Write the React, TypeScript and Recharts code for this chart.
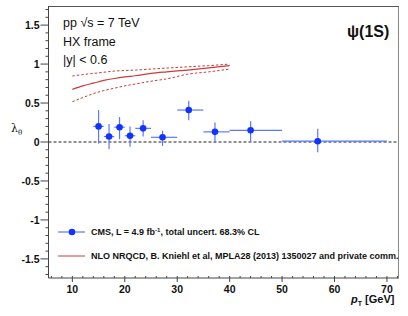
import React from 'react';
import {
    ComposedChart, Scatter, Line, XAxis, YAxis, ErrorBar, ReferenceLine
} from 'recharts';

// CMS measurement: pT bin centre, lambda_theta, errors [low, high]
const cmsPt = [15, 17, 19, 21, 23.5, 27.2, 32.2, 37.2, 44, 56.8];
const cmsLambda = [0.2, 0.07, 0.19, 0.08, 0.175, 0.06, 0.41, 0.13, 0.15, 0.01];
const cmsErrY = [[0.22, 0.21], [0.16, 0.16], [0.155, 0.13], [0.14, 0.12], [0.105, 0.105],
    [0.11, 0.085], [0.13, 0.12], [0.14, 0.12], [0.145, 0.115], [0.14, 0.16]];
const cmsErrX = [[1, 1], [1, 1], [1, 1], [1, 1], [1.5, 1.5], [2.2, 2.8], [2.2, 2.8],
    [2.2, 2.8], [4, 6], [6.8, 13.2]];

// NLO NRQCD band
const nloPt = [10, 12, 14, 16, 18, 20, 22, 25, 28, 32, 36, 40];
const nloCentral = [0.675, 0.72, 0.755, 0.79, 0.815, 0.835, 0.85, 0.88, 0.9, 0.923, 0.95, 0.98];
const nloUpper = [0.846, 0.865, 0.88, 0.895, 0.91, 0.917, 0.923, 0.936, 0.948, 0.965, 0.98, 1.0];
const nloLower = [0.517, 0.57, 0.62, 0.66, 0.69, 0.72, 0.744, 0.78, 0.81, 0.87, 0.9, 0.936];

const xMajor = [10, 20, 30, 40, 50, 60, 70];
const yMajor = [-1.5, -1, -0.5, 0, 0.5, 1, 1.5];

const xTicks: number[] = [];
for (let i = 6; i <= 72; i += 2) xTicks.push(i);
const yTicks: number[] = [];
for (let i = -17; i <= 17; i++) yTicks.push(i / 10);

const cmsData = cmsPt.map((pt, i) => ({ pt, lam: cmsLambda[i], ey: cmsErrY[i], ex: cmsErrX[i] }));
const central = nloPt.map((pt, i) => ({ pt, v: nloCentral[i] }));
const upper = nloPt.map((pt, i) => ({ pt, v: nloUpper[i] }));
const lower = nloPt.map((pt, i) => ({ pt, v: nloLower[i] }));

const FONT = '"Liberation Sans", Arial, sans-serif';
const BLUE = '#1133ff';
const RED = '#c83c3c';

const isMajor = (v: number, list: number[]) => list.some(m => Math.abs(m - v) < 1e-6);

const XTick = ({ x, y, payload }: any) => {
    const major = isMajor(payload.value, xMajor);
    return (
        <g>
            {major
                ? <line x1={x} x2={x} y1={y - 2} y2={y + 4} stroke="#444" />
                : <line x1={x} x2={x} y1={y - 2} y2={y} stroke="#444" />}
            {major && (
                <text x={x} y={y + 14.5} textAnchor="middle" fontFamily={FONT} fontWeight="bold" fontSize={10.5} fill="#111">
                    {payload.value}
                </text>
            )}
        </g>
    );
};

const YTick = ({ x, y, payload }: any) => {
    const major = isMajor(payload.value, yMajor);
    return (
        <g>
            <line x1={x - (major ? 8 : 3)} x2={x} y1={y} y2={y} stroke="#444" />
            {major && (
                <text x={x - 9} y={y + 4} textAnchor="end" fontFamily={FONT} fontWeight="bold" fontSize={10.5} fill="#111">
                    {payload.value}
                </text>
            )}
        </g>
    );
};

const LegendBox = () => (
    <svg width={358} height={45} style={{ position: 'absolute', left: 50, top: 224 }}>
        <line x1={8} x2={35} y1={8} y2={8} stroke="#5a78ff" strokeWidth={1.2} />
        <circle cx={22} cy={8} r={3.3} fill={BLUE} />
        <text x={41} y={11} fontFamily={FONT} fontWeight="bold" fontSize={9} fill="#111">
            CMS, L = 4.9 fb<tspan dy={-3} fontSize={6}>-1</tspan><tspan dy={3}>, total uncert. 68.3% CL</tspan>
        </text>
        <line x1={8} x2={35} y1={32} y2={32} stroke={RED} strokeWidth={1} />
        <text x={41} y={35} fontFamily={FONT} fontWeight="bold" fontSize={9} fill="#111">
            NLO NRQCD, B. Kniehl et al, MPLA28 (2013) 1350027 and private comm.
        </text>
    </svg>
);

export default function App() {
    return (
        <div style={{ position: 'absolute', left: 0, top: 0, width: 408, height: 316, background: '#fff' }}>
            <ComposedChart width={408} height={316} margin={{ top: 6, right: 9, bottom: 0, left: 0 }}>
                <XAxis
                    type="number"
                    dataKey="pt"
                    domain={[5.45, 72.3]}
                    ticks={xTicks}
                    interval={0}
                    height={38}
                    tickSize={0}
                    tickMargin={0}
                    tickLine={false}
                    tick={<XTick />}
                    stroke="#444"
                    allowDataOverflow
                />
                <YAxis
                    type="number"
                    domain={[-1.745, 1.745]}
                    ticks={yTicks}
                    interval={0}
                    width={48.5}
                    tickSize={0}
                    tickMargin={0}
                    tickLine={false}
                    tick={<YTick />}
                    stroke="#444"
                    allowDataOverflow
                />
                <ReferenceLine y={0} stroke="#222" strokeDasharray="3 2" />
                <Line data={upper} dataKey="v" type="monotone" stroke={RED} strokeWidth={1} strokeDasharray="2.5 2" dot={false} isAnimationActive={false} />
                <Line data={lower} dataKey="v" type="monotone" stroke={RED} strokeWidth={1} strokeDasharray="2.5 2" dot={false} isAnimationActive={false} />
                <Line data={central} dataKey="v" type="monotone" stroke={RED} strokeWidth={1.2} dot={false} isAnimationActive={false} />
                <Scatter
                    data={cmsData}
                    dataKey="lam"
                    isAnimationActive={false}
                    shape={(p: any) => <circle cx={p.cx} cy={p.cy} r={3.3} fill={BLUE} />}
                >
                    <ErrorBar dataKey="ey" direction="y" width={0} stroke="#5a78ff" strokeWidth={1.2} />
                    <ErrorBar dataKey="ex" direction="x" width={0} stroke="#5a78ff" strokeWidth={1.2} />
                </Scatter>
            </ComposedChart>
            {/* frame */}
            <div style={{
                position: 'absolute', left: 48.5, top: 6, width: 350.5, height: 272,
                borderTop: '1px solid #555', borderRight: '1px solid #888', boxSizing: 'border-box',
                pointerEvents: 'none'
            }} />
            <LegendBox />
            <div style={{ position: 'absolute', left: 63, top: 14, fontFamily: FONT, fontSize: 12.5, color: '#111', lineHeight: '18.5px' }}>
                <div>pp √s = 7 TeV</div>
                <div>HX frame</div>
                <div>|y| &lt; 0.6</div>
            </div>
            <div style={{ position: 'absolute', left: 347, top: 23, fontFamily: FONT, fontSize: 16, fontWeight: 'bold', color: '#111' }}>
                ψ(1S)
            </div>
            <div style={{ position: 'absolute', left: 11, top: 122, fontFamily: '"DejaVu Serif", serif', fontSize: 11, color: '#111' }}>
                λ<sub style={{ fontSize: 7 }}>θ</sub>
            </div>
            <div style={{ position: 'absolute', left: 351, top: 294, fontFamily: FONT, fontSize: 11, lineHeight: '11px', fontWeight: 'bold', color: '#111', whiteSpace: 'nowrap' }}>
                <i>p</i><sub style={{ fontSize: 7, lineHeight: 0 }}>T</sub> [GeV]
            </div>
        </div>
    );
}
